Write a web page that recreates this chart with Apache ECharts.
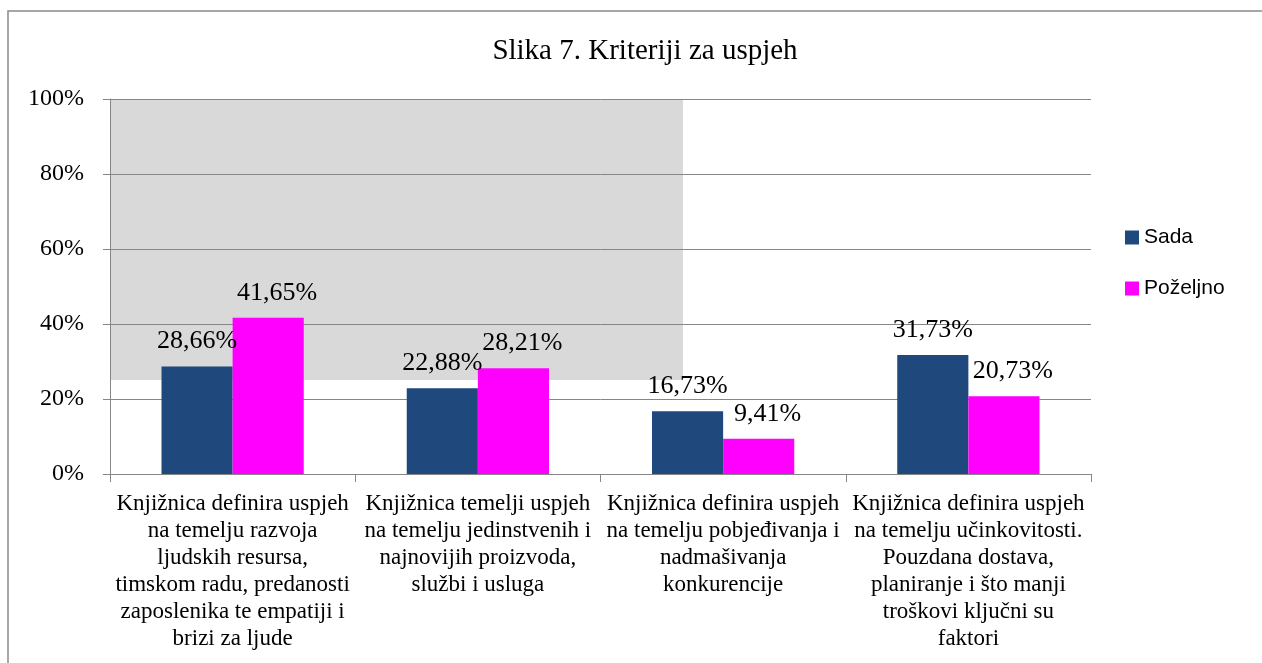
<!DOCTYPE html>
<html>
<head>
<meta charset="utf-8">
<script src="https://cdn.jsdelivr.net/npm/echarts@6/dist/echarts.min.js"></script>
<style>
html,body{margin:0;padding:0;background:#fff;}
#c{width:1262px;height:663px;}
</style>
</head>
<body>
<div id="c"></div>
<script>
const titleText = 'Slika 7. Kriteriji za uspjeh';
const categories = [
  'Knjižnica definira uspjeh\nna temelju razvoja\nljudskih resursa,\ntimskom radu, predanosti\nzaposlenika te empatiji i\nbrizi za ljude',
  'Knjižnica temelji uspjeh\nna temelju jedinstvenih i\nnajnovijih proizvoda,\nslužbi i usluga',
  'Knjižnica definira uspjeh\nna temelju pobjeđivanja i\nnadmašivanja\nkonkurencije',
  'Knjižnica definira uspjeh\nna temelju učinkovitosti.\nPouzdana dostava,\nplaniranje i što manji\ntroškovi ključni su\nfaktori'
];
const seriesNames = ['Sada', 'Poželjno'];
const sada = [28.66, 22.88, 16.73, 31.73];
const pozeljno = [41.65, 28.21, 9.41, 20.73];
const yTicks = [0, 20, 40, 60, 80, 100];

const serif = '"Liberation Serif","Times New Roman",serif';
const chart = echarts.init(document.getElementById('c'), null, {renderer: 'canvas'});
const fmt = v => String(v.toFixed(2)).replace('.', ',') + '%';
const labelCfg = (dx) => ({
  show: true, position: 'top', distance: 12, offset: [dx, 0],
  fontFamily: serif, fontSize: 26, color: '#000',
  formatter: p => fmt(p.value)
});
chart.setOption({
  animation: false,
  backgroundColor: '#fff',
  title: {
    text: titleText, left: 640, top: 32, textAlign: 'center',
    textStyle: {fontFamily: serif, fontSize: 29, fontWeight: 'normal', color: '#000'}
  },
  graphic: [
    {type: 'rect', z: -20, silent: true,
     shape: {x: 8, y: 11, width: 1400, height: 800},
     style: {fill: 'none', stroke: '#8a8a8a', lineWidth: 1.5}},
    {type: 'rect', z: -10, silent: true,
     shape: {x: 110, y: 99, width: 573, height: 281},
     style: {fill: '#d9d9d9'}}
  ],
  legend: {
    orient: 'vertical', left: 1120, top: 222, itemGap: 30,
    itemWidth: 14, itemHeight: 14, icon: 'rect',
    textStyle: {fontFamily: '"Liberation Sans",Arial,sans-serif', fontSize: 21, color: '#000'},
    data: seriesNames
  },
  grid: {left: 110, right: 171, top: 99, bottom: 189, containLabel: false},
  xAxis: {
    type: 'category', data: categories,
    axisLine: {lineStyle: {color: '#868686', width: 1}},
    axisTick: {show: true, length: 8, lineStyle: {color: '#868686'}},
    axisLabel: {interval: 0, margin: 16, fontFamily: serif, fontSize: 23, lineHeight: 27, color: '#000', align: 'center'}
  },
  yAxis: {
    type: 'value', min: yTicks[0], max: yTicks[yTicks.length-1], interval: 20,
    axisLine: {show: true, lineStyle: {color: '#868686', width: 1}},
    axisTick: {show: true, length: 7, lineStyle: {color: '#868686'}},
    splitLine: {show: true, lineStyle: {color: '#868686', width: 1}},
    axisLabel: {margin: 26, fontFamily: serif, fontSize: 24, color: '#000', formatter: v => v + '%'}
  },
  series: [
    {name: seriesNames[0], type: 'bar', data: sada, barGap: '0%', barCategoryGap: '42%',
     itemStyle: {color: '#1f497d'}, label: labelCfg(0)},
    {name: seriesNames[1], type: 'bar', data: pozeljno, barGap: '0%', barCategoryGap: '42%',
     itemStyle: {color: '#ff00ff'}, label: labelCfg(9)}
  ]
});
</script>
</body>
</html>
